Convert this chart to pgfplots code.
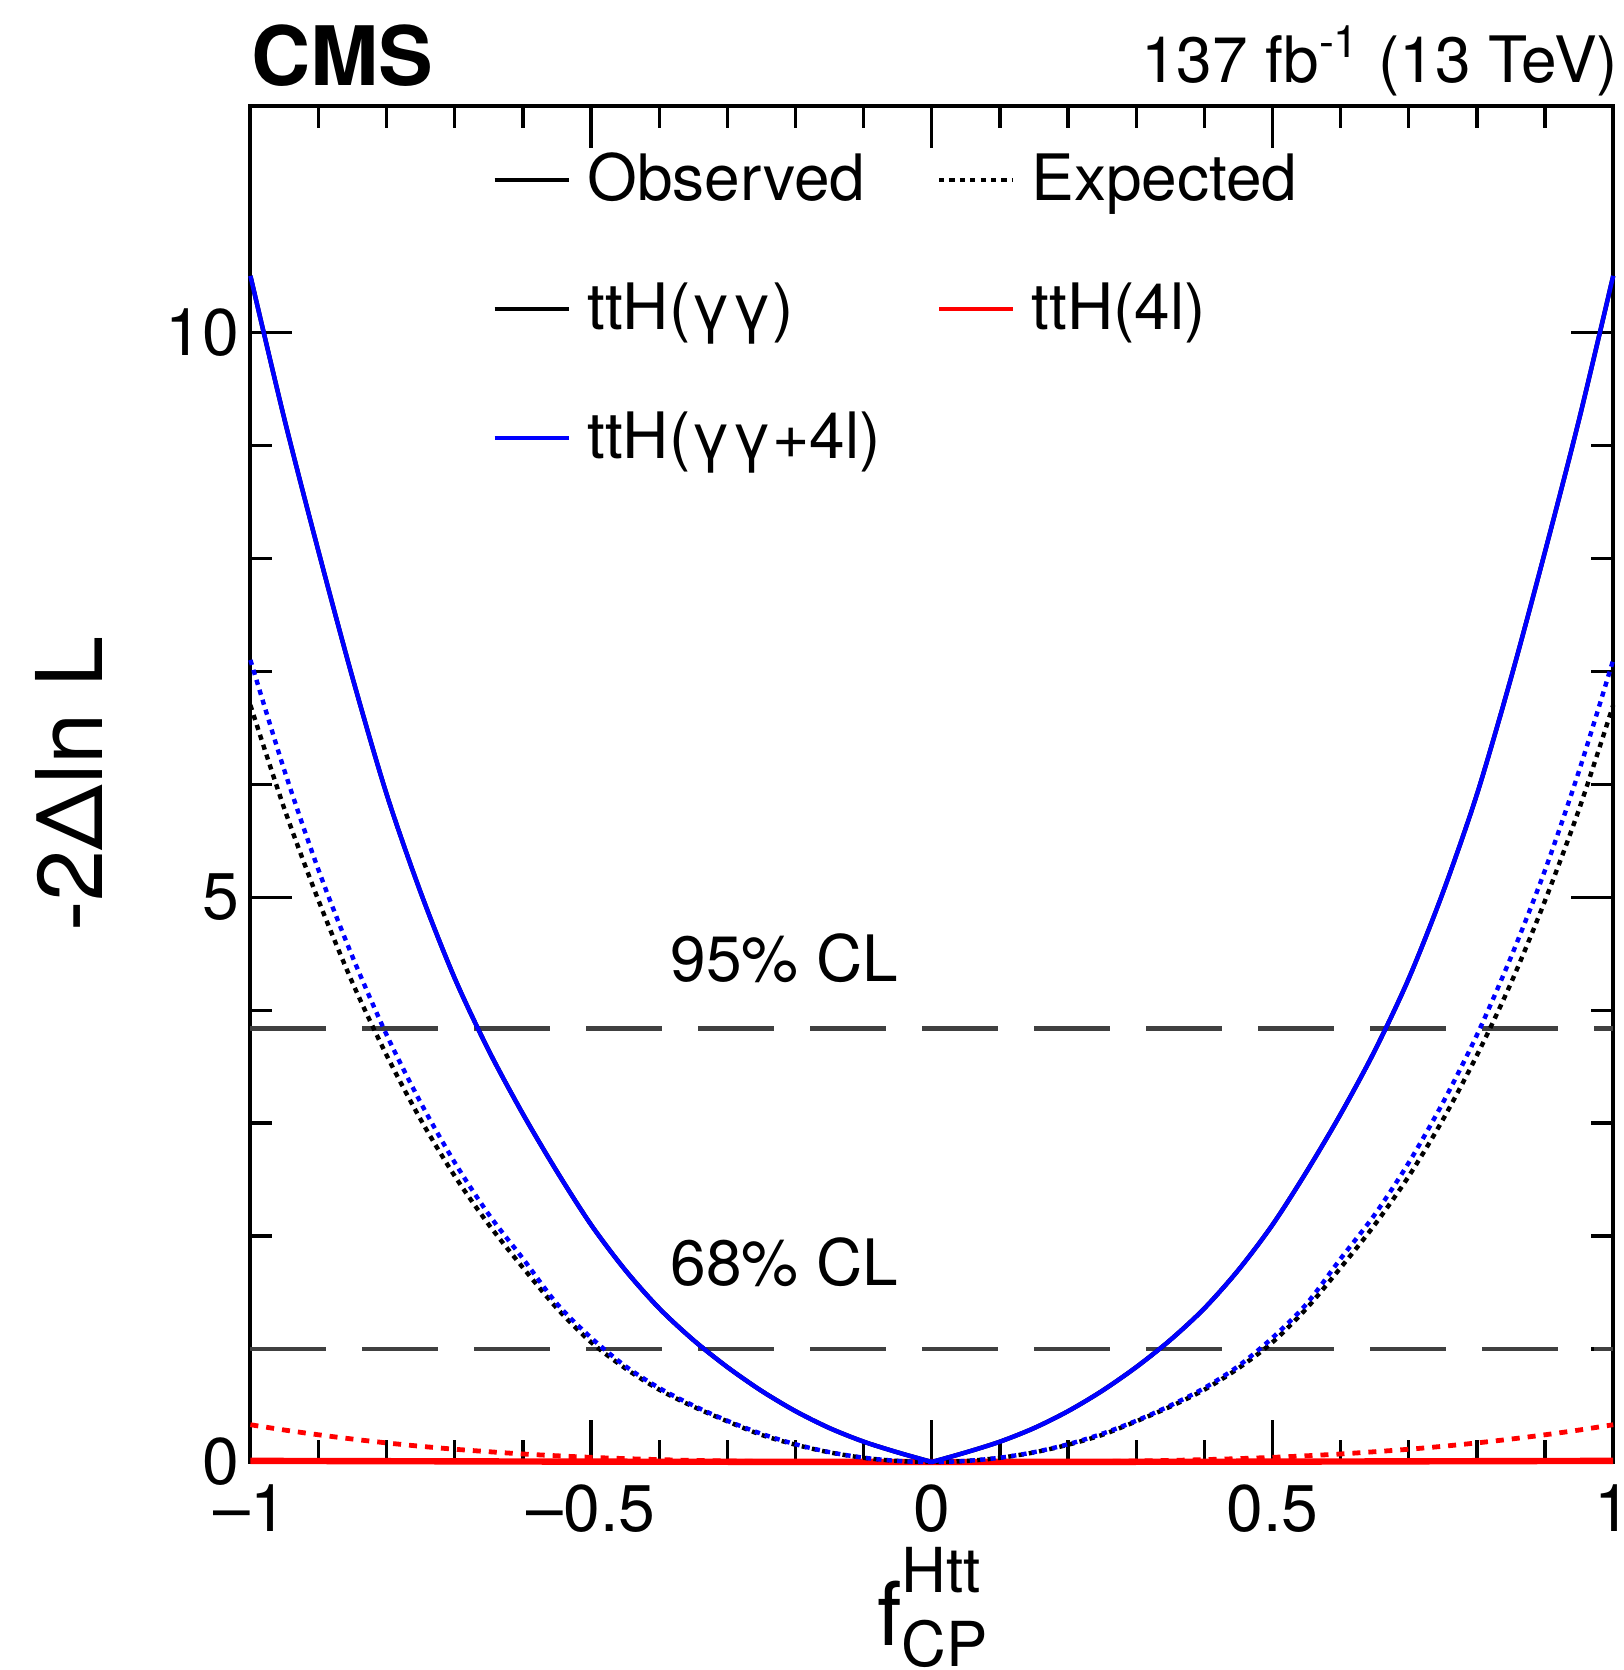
\documentclass[border=0pt]{standalone}
\usepackage{fontspec}
\setmainfont{TeX Gyre Heros}
\usepackage{pgfplots}
\pgfplotsset{compat=1.18}
\begin{document}
\begin{tikzpicture}
\begin{axis}[
  name=ax,
  scale only axis,
  width=340.7pt, height=338.9pt,
  xmin=-1, xmax=1, ymin=0, ymax=12,
  clip=false,
  axis line style={line width=1pt},
  tick align=inside,
  major tick length=10.5pt, minor tick length=5.5pt,
  every tick/.style={black, line width=0.8pt},
  xtick={-1,-0.5,0,0.5,1},
  xticklabels={–1,–0.5,0,0.5,1},
  ytick={0,5,10},
  yticklabels={0,5,10},
  minor x tick num=4, minor y tick num=4,
  ticklabel style={font=\fontsize{16.5}{19}\selectfont},
  xticklabel style={inner sep=0pt, yshift=-5.6pt},
  yticklabel style={inner sep=0pt, xshift=-2.7pt},
  xlabel={f\rlap{\raisebox{-5.3pt}{\fontsize{15.5}{15.5}\selectfont CP}}\raisebox{13.3pt}{\fontsize{15.5}{15.5}\selectfont Htt}},
  xlabel style={at={(axis description cs:0.498,-0.1352)}, anchor=base, font=\fontsize{22}{26}\selectfont, inner sep=0pt},
  ylabel={-2Δln L},
  ylabel style={at={(axis description cs:-0.133,0.5)}, anchor=center, font=\fontsize{23}{27}\selectfont, inner sep=0pt},
  legend columns=2,
  legend cell align=left,
  legend image code/.code={\draw[#1] (0pt,0pt) -- (18.6pt,0pt);},
  legend style={draw=none, fill=none, at={(axis description cs:0.177,0.972)}, anchor=north west,
    font=\fontsize{16}{19}\selectfont, row sep=15pt, inner sep=0pt,
    nodes={inner sep=2pt},
    /tikz/every odd column/.append style={column sep=2pt},
    /tikz/every even column/.append style={column sep=12pt}},
]
\addlegendimage{black, line width=0.8pt}
\addlegendentry{Observed}
\addlegendimage{black, line width=1pt, dash pattern=on 1.3pt off 1.3pt}
\addlegendentry{Expected}
\addlegendimage{black, line width=1.1pt}
\addlegendentry{ttH(γγ)}
\addlegendimage{red, line width=1.1pt}
\addlegendentry{ttH(4l)}
\addlegendimage{blue, line width=1.1pt}
\addlegendentry{ttH(γγ+4l)}

% CL lines
\addplot[forget plot, black!75, line width=1.2pt, dash pattern=on 19pt off 9pt] coordinates {(-1,1) (1,1)};
\addplot[forget plot, black!75, line width=1.2pt, dash pattern=on 19pt off 9pt] coordinates {(-1,3.84) (1,3.84)};

% ttH(4l) observed
\addplot[forget plot, red, line width=1.6pt] coordinates {(-1,0.01) (-0.5,0.003) (0,0) (0.5,0.003) (1,0.01)};
% ttH(4l) expected
\addplot[forget plot, red, line width=1.2pt, dash pattern=on 2pt off 2pt, smooth] coordinates {
(-1,0.33)(-0.95,0.283)(-0.9,0.241)(-0.85,0.203)(-0.8,0.169)(-0.75,0.139)(-0.7,0.113)(-0.65,0.091)(-0.6,0.071)(-0.55,0.055)(-0.5,0.041)(-0.45,0.03)(-0.4,0.021)(-0.35,0.014)(-0.3,0.009)(-0.25,0.005)(-0.2,0.003)(-0.15,0.001)(-0.1,0)(0,0)
(0.1,0)(0.15,0.001)(0.2,0.003)(0.25,0.005)(0.3,0.009)(0.35,0.014)(0.4,0.021)(0.45,0.03)(0.5,0.041)(0.55,0.055)(0.6,0.071)(0.65,0.091)(0.7,0.113)(0.75,0.139)(0.8,0.169)(0.85,0.203)(0.9,0.241)(0.95,0.283)(1,0.33)};

% ttH(gg) expected
\addplot[forget plot, black, line width=1.1pt, dash pattern=on 1.3pt off 1.3pt, smooth] coordinates {
(-1,6.7)(-0.95,5.78)(-0.9,4.97)(-0.85,4.24)(-0.8,3.6)(-0.75,3.03)(-0.7,2.53)(-0.65,2.1)(-0.6,1.72)(-0.55,1.36)(-0.5,1.06)(-0.45,0.83)(-0.4,0.64)(-0.35,0.49)(-0.3,0.36)(-0.25,0.24)(-0.2,0.153)(-0.15,0.085)(-0.1,0.037)(-0.05,0.009)(0,0)
(0.05,0.009)(0.1,0.037)(0.15,0.085)(0.2,0.153)(0.25,0.24)(0.3,0.36)(0.35,0.49)(0.4,0.64)(0.45,0.83)(0.5,1.06)(0.55,1.36)(0.6,1.72)(0.65,2.1)(0.7,2.53)(0.75,3.03)(0.8,3.6)(0.85,4.24)(0.9,4.97)(0.95,5.78)(1,6.7)};
% ttH(gg) observed (left and right halves)
\addplot[forget plot, black, line width=1.1pt, smooth] coordinates {
(-1,10.5)(-0.95,9.23)(-0.9,8.06)(-0.85,6.94)(-0.8,5.91)(-0.75,5.04)(-0.7,4.28)(-0.65,3.64)(-0.6,3.08)(-0.55,2.57)(-0.5,2.1)(-0.45,1.7)(-0.4,1.36)(-0.35,1.08)(-0.3,0.84)(-0.25,0.63)(-0.2,0.45)(-0.15,0.3)(-0.1,0.18)(-0.05,0.085)(0,0)};
\addplot[forget plot, black, line width=1.1pt, smooth] coordinates {
(0,0)(0.05,0.085)(0.1,0.18)(0.15,0.3)(0.2,0.45)(0.25,0.63)(0.3,0.84)(0.35,1.08)(0.4,1.36)(0.45,1.7)(0.5,2.1)(0.55,2.57)(0.6,3.08)(0.65,3.64)(0.7,4.28)(0.75,5.04)(0.8,5.91)(0.85,6.94)(0.9,8.06)(0.95,9.23)(1,10.5)};

% ttH(gg+4l) expected
\addplot[forget plot, blue, line width=1.1pt, dash pattern=on 1.3pt off 1.3pt, smooth] coordinates {
(-1,7.1)(-0.95,6.12)(-0.9,5.24)(-0.85,4.47)(-0.8,3.78)(-0.75,3.18)(-0.7,2.65)(-0.65,2.19)(-0.6,1.8)(-0.55,1.4)(-0.5,1.1)(-0.45,0.85)(-0.4,0.655)(-0.35,0.5)(-0.3,0.365)(-0.25,0.25)(-0.2,0.157)(-0.15,0.087)(-0.1,0.038)(-0.05,0.0095)(0,0)
(0.05,0.0095)(0.1,0.038)(0.15,0.087)(0.2,0.157)(0.25,0.25)(0.3,0.365)(0.35,0.5)(0.4,0.655)(0.45,0.85)(0.5,1.1)(0.55,1.4)(0.6,1.8)(0.65,2.19)(0.7,2.65)(0.75,3.18)(0.8,3.78)(0.85,4.47)(0.9,5.24)(0.95,6.12)(1,7.1)};
% ttH(gg+4l) observed (left and right halves)
\addplot[forget plot, blue, line width=1.1pt, smooth] coordinates {
(-1,10.5)(-0.95,9.23)(-0.9,8.06)(-0.85,6.94)(-0.8,5.91)(-0.75,5.04)(-0.7,4.28)(-0.65,3.64)(-0.6,3.08)(-0.55,2.57)(-0.5,2.1)(-0.45,1.7)(-0.4,1.36)(-0.35,1.08)(-0.3,0.84)(-0.25,0.63)(-0.2,0.45)(-0.15,0.3)(-0.1,0.18)(-0.05,0.085)(0,0)};
\addplot[forget plot, blue, line width=1.1pt, smooth] coordinates {
(0,0)(0.05,0.085)(0.1,0.18)(0.15,0.3)(0.2,0.45)(0.25,0.63)(0.3,0.84)(0.35,1.08)(0.4,1.36)(0.45,1.7)(0.5,2.1)(0.55,2.57)(0.6,3.08)(0.65,3.64)(0.7,4.28)(0.75,5.04)(0.8,5.91)(0.85,6.94)(0.9,8.06)(0.95,9.23)(1,10.5)};

\node[font=\fontsize{16}{19}\selectfont, inner sep=0pt] at (axis cs:-0.216,4.46) {95\% CL};
\node[font=\fontsize{16}{19}\selectfont, inner sep=0pt] at (axis cs:-0.216,1.77) {68\% CL};
\node[anchor=base west, inner sep=0pt, font=\fontsize{20.5}{24}\selectfont\bfseries] at (rel axis cs:0,1) [yshift=5.3pt] {CMS};
\node[anchor=base east, inner sep=0pt, font=\fontsize{16}{19}\selectfont] at (rel axis cs:1,1) [xshift=1.4pt, yshift=5.9pt] {137 fb\textsuperscript{-1} (13 TeV)};
\end{axis}
\pgfresetboundingbox
\path ([xshift=-62.6pt,yshift=-52pt]ax.south west) rectangle ([xshift=2.7pt,yshift=26.6pt]ax.north east);
\end{tikzpicture}
\end{document}
